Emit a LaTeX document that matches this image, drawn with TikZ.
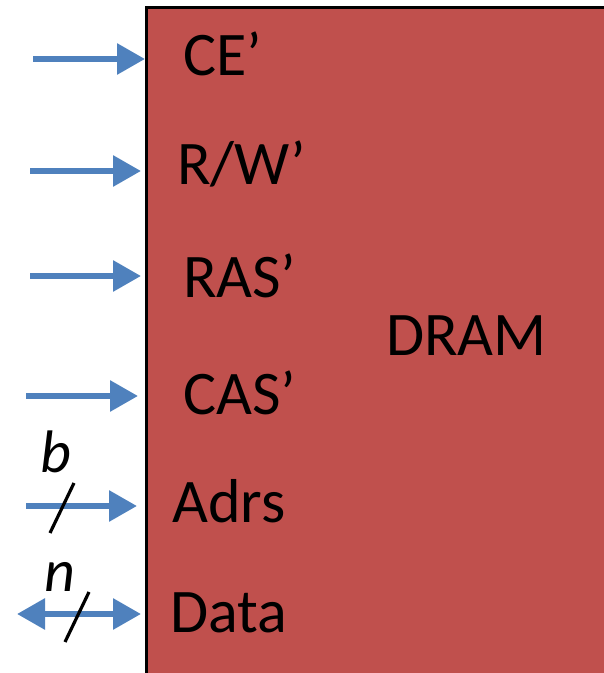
\documentclass[tikz,border=0pt]{standalone}
\usepackage{fontspec}
\setmainfont{Carlito}
\usetikzlibrary{arrows.meta}
\definecolor{dramred}{HTML}{C0504D}
\definecolor{pinblue}{HTML}{4F81BD}
\tikzset{
 tip/.tip={Triangle[length=28pt,width=30pt]},
 pin/.style={pinblue,line width=6pt,-tip},
 bus/.style={pinblue,line width=6pt,tip-tip},
 pinlabel/.style={anchor=base west,inner sep=0pt,font=\fontsize{62}{64}\selectfont},
 width/.style={inner sep=0pt,font=\fontsize{60}{62}\selectfont\itshape},
 slash/.style={black,line width=3.2pt},
}
\begin{document}
\begin{tikzpicture}[x=1pt,y=1pt]
\useasboundingbox (0,0) rectangle (604,673);
\clip (0,0) rectangle (604,673);
% the chip, running off the right and bottom
\draw[line width=3pt,fill=dramred] (146,665) rectangle (660,-40);
\node[pinlabel] (dram) at (386,317) {DRAM};

% single control lines
\foreach \n/\txt/\lx/\bl/\sx/\ex/\ay in {
  ce/CE’/183/597/33/145/614,
  rw/R\slash W’/177/488/30/141/502,
  ras/RAS’/183/375/30/141/397,
  cas/CAS’/183/258/26/138/277}{
 \node[pinlabel] (\n) at (\lx,\bl) {\txt};
 \coordinate (\n-in) at (\sx,\ay);
 \coordinate (\n-pin) at (\ex,\ay);
 \draw[pin] (\n-in) -- (\n-pin);
}

% address bus, b bits
\node[pinlabel] (adrs) at (172,150) {Adrs};
\coordinate (adrs-in) at (26,167);
\coordinate (adrs-pin) at (137,167);
\draw[pin] (adrs-in) -- (adrs-pin);
\coordinate (adrs-s1) at (74,190);
\coordinate (adrs-s2) at (50,140);
\draw[slash] (adrs-s1) -- (adrs-s2);
\node[width] (b) at (56,221) {b};

% data bus, n bits both ways
\node[pinlabel] (data) at (170,40) {Data};
\coordinate (data-out) at (17,59);
\coordinate (data-pin) at (141,59);
\draw[bus] (data-out) -- (data-pin);
\coordinate (data-s1) at (89,81);
\coordinate (data-s2) at (65,31);
\draw[slash] (data-s1) -- (data-s2);
\node[width] (n) at (60,96) {n};
\end{tikzpicture}
\end{document}
